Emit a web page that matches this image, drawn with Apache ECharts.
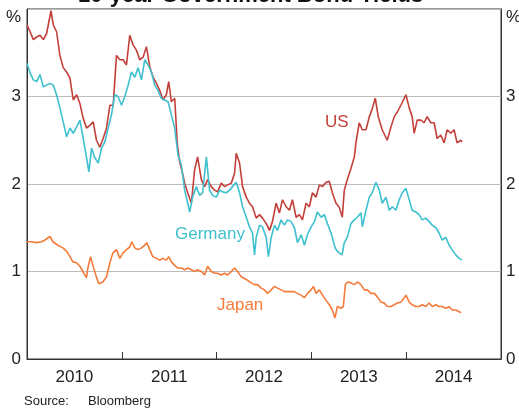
<!DOCTYPE html>
<html>
<head>
<meta charset="utf-8">
<script src="https://cdn.jsdelivr.net/npm/echarts@6/dist/echarts.min.js"></script>
<style>
  html, body { margin: 0; padding: 0; background: #fff; }
  #chart { width: 519px; height: 409px; }
</style>
</head>
<body>
<div id="chart"></div>
<script>
// x positions are decimal years, values are % yields
var yearLabels = ['2010', '2011', '2012', '2013', '2014'];

var usDates = [2010.000, 2010.032, 2010.067, 2010.102, 2010.137, 2010.172, 2010.207, 2010.253, 2010.277, 2010.312,
  2010.347, 2010.382, 2010.418, 2010.453, 2010.488, 2010.523, 2010.558, 2010.593, 2010.628, 2010.663,
  2010.698, 2010.733, 2010.768, 2010.803, 2010.839, 2010.874, 2010.909, 2010.944, 2010.979, 2011.014,
  2011.049, 2011.084, 2011.119, 2011.154, 2011.189, 2011.225, 2011.260, 2011.295, 2011.330, 2011.365,
  2011.400, 2011.435, 2011.470, 2011.495, 2011.523, 2011.558, 2011.586, 2011.611, 2011.646, 2011.663,
  2011.695, 2011.734, 2011.768, 2011.800, 2011.839, 2011.874, 2011.905, 2011.944, 2011.979, 2012.011,
  2012.049, 2012.084, 2012.116, 2012.155, 2012.189, 2012.207, 2012.242, 2012.274, 2012.313, 2012.347,
  2012.379, 2012.418, 2012.453, 2012.484, 2012.523, 2012.558, 2012.589, 2012.628, 2012.663, 2012.695,
  2012.734, 2012.768, 2012.800, 2012.839, 2012.874, 2012.905, 2012.944, 2012.979, 2013.011, 2013.049,
  2013.084, 2013.116, 2013.155, 2013.189, 2013.221, 2013.260, 2013.295, 2013.326, 2013.347, 2013.379,
  2013.418, 2013.453, 2013.471, 2013.505, 2013.537, 2013.576, 2013.611, 2013.639, 2013.674, 2013.705,
  2013.747, 2013.800, 2013.839, 2013.874, 2013.905, 2013.944, 2013.997, 2014.032, 2014.063, 2014.084,
  2014.116, 2014.155, 2014.189, 2014.221, 2014.260, 2014.295, 2014.326, 2014.365, 2014.400, 2014.432,
  2014.471, 2014.505, 2014.537, 2014.576, 2014.589];
var usYield = [3.82, 3.74, 3.65, 3.68, 3.70, 3.65, 3.72, 3.98, 3.82, 3.74,
  3.47, 3.33, 3.28, 3.21, 2.96, 3.02, 2.92, 2.75, 2.64, 2.67,
  2.71, 2.50, 2.42, 2.52, 2.64, 2.90, 2.90, 3.47, 3.42, 3.42,
  3.36, 3.70, 3.59, 3.53, 3.42, 3.45, 3.57, 3.34, 3.22, 3.15,
  3.07, 2.96, 3.02, 3.17, 2.94, 2.98, 2.45, 2.25, 2.10, 2.01,
  1.90, 1.78, 2.16, 2.31, 2.05, 1.97, 2.05, 1.97, 1.93, 1.91,
  2.01, 1.97, 1.99, 2.01, 2.12, 2.35, 2.24, 1.97, 1.85, 1.78,
  1.74, 1.61, 1.65, 1.61, 1.55, 1.47, 1.57, 1.78, 1.67, 1.82,
  1.74, 1.70, 1.82, 1.62, 1.65, 1.59, 1.78, 1.74, 1.90, 1.85,
  1.99, 1.97, 2.02, 2.03, 1.90, 1.78, 1.73, 1.62, 1.93, 2.05,
  2.18, 2.31, 2.48, 2.70, 2.62, 2.62, 2.77, 2.85, 2.98, 2.77,
  2.62, 2.50, 2.65, 2.77, 2.82, 2.90, 3.02, 2.87, 2.77, 2.58,
  2.73, 2.73, 2.70, 2.77, 2.70, 2.70, 2.52, 2.56, 2.47, 2.62,
  2.58, 2.62, 2.47, 2.50, 2.48];

var deDates = [2010.000, 2010.032, 2010.067, 2010.102, 2010.137, 2010.172, 2010.207, 2010.242, 2010.277, 2010.312,
  2010.347, 2010.382, 2010.418, 2010.453, 2010.488, 2010.523, 2010.558, 2010.593, 2010.628, 2010.653,
  2010.681, 2010.716, 2010.751, 2010.786, 2010.821, 2010.856, 2010.891, 2010.926, 2010.961, 2010.997,
  2011.032, 2011.067, 2011.102, 2011.137, 2011.172, 2011.207, 2011.242, 2011.277, 2011.312, 2011.347,
  2011.382, 2011.417, 2011.453, 2011.488, 2011.523, 2011.558, 2011.593, 2011.628, 2011.663, 2011.695,
  2011.716, 2011.747, 2011.786, 2011.821, 2011.853, 2011.892, 2011.926, 2011.958, 2011.997, 2012.032,
  2012.063, 2012.102, 2012.137, 2012.168, 2012.207, 2012.242, 2012.274, 2012.313, 2012.347, 2012.379,
  2012.400, 2012.418, 2012.453, 2012.484, 2012.523, 2012.547, 2012.576, 2012.611, 2012.642, 2012.681,
  2012.716, 2012.747, 2012.786, 2012.821, 2012.853, 2012.892, 2012.926, 2012.958, 2012.997, 2013.032,
  2013.063, 2013.102, 2013.137, 2013.168, 2013.207, 2013.242, 2013.260, 2013.295, 2013.323, 2013.347,
  2013.379, 2013.418, 2013.453, 2013.484, 2013.523, 2013.537, 2013.576, 2013.611, 2013.642, 2013.681,
  2013.716, 2013.747, 2013.786, 2013.821, 2013.853, 2013.892, 2013.926, 2013.958, 2013.997, 2014.032,
  2014.063, 2014.102, 2014.137, 2014.168, 2014.207, 2014.242, 2014.274, 2014.313, 2014.347, 2014.379,
  2014.418, 2014.453, 2014.484, 2014.523, 2014.558, 2014.589];
var deYield = [3.38, 3.27, 3.19, 3.17, 3.25, 3.11, 3.13, 3.15, 3.13, 3.02,
  2.87, 2.71, 2.54, 2.64, 2.58, 2.65, 2.73, 2.52, 2.30, 2.14,
  2.41, 2.30, 2.24, 2.41, 2.48, 2.64, 2.79, 3.02, 3.00, 2.90,
  3.00, 3.13, 3.28, 3.22, 3.33, 3.19, 3.42, 3.36, 3.28, 3.13,
  3.07, 2.98, 2.96, 2.94, 2.79, 2.64, 2.33, 2.22, 1.93, 1.78,
  1.68, 1.85, 1.97, 1.87, 1.90, 2.31, 1.93, 1.87, 1.85, 1.93,
  1.91, 1.90, 1.93, 1.97, 2.02, 1.90, 1.74, 1.62, 1.51, 1.44,
  1.19, 1.39, 1.53, 1.51, 1.39, 1.17, 1.39, 1.53, 1.47, 1.59,
  1.53, 1.59, 1.57, 1.50, 1.33, 1.42, 1.30, 1.42, 1.51, 1.57,
  1.68, 1.62, 1.65, 1.55, 1.44, 1.30, 1.25, 1.21, 1.19, 1.33,
  1.39, 1.55, 1.59, 1.62, 1.67, 1.51, 1.70, 1.85, 1.90, 2.02,
  1.93, 1.78, 1.85, 1.70, 1.74, 1.70, 1.82, 1.90, 1.95, 1.82,
  1.70, 1.68, 1.65, 1.59, 1.61, 1.57, 1.53, 1.50, 1.44, 1.36,
  1.39, 1.30, 1.25, 1.19, 1.15, 1.13];

var jpDates = [2010.000, 2010.049, 2010.102, 2010.155, 2010.189, 2010.242, 2010.274, 2010.326, 2010.379, 2010.418,
  2010.453, 2010.484, 2010.523, 2010.558, 2010.589, 2010.628, 2010.642, 2010.671, 2010.695, 2010.734,
  2010.758, 2010.800, 2010.839, 2010.874, 2010.905, 2010.944, 2010.979, 2011.011, 2011.049, 2011.084,
  2011.105, 2011.137, 2011.168, 2011.207, 2011.242, 2011.263, 2011.295, 2011.326, 2011.365, 2011.400,
  2011.432, 2011.471, 2011.495, 2011.523, 2011.558, 2011.589, 2011.628, 2011.663, 2011.695, 2011.734,
  2011.768, 2011.800, 2011.839, 2011.874, 2011.905, 2011.944, 2011.979, 2012.011, 2012.049, 2012.084,
  2012.116, 2012.155, 2012.189, 2012.221, 2012.260, 2012.295, 2012.326, 2012.365, 2012.400, 2012.432,
  2012.471, 2012.505, 2012.537, 2012.576, 2012.611, 2012.642, 2012.681, 2012.716, 2012.747, 2012.786,
  2012.821, 2012.853, 2012.892, 2012.926, 2012.958, 2012.997, 2013.021, 2013.049, 2013.084, 2013.116,
  2013.155, 2013.189, 2013.221, 2013.249, 2013.274, 2013.313, 2013.337, 2013.358, 2013.382, 2013.418,
  2013.453, 2013.484, 2013.523, 2013.558, 2013.589, 2013.628, 2013.663, 2013.695, 2013.734, 2013.768,
  2013.800, 2013.839, 2013.874, 2013.905, 2013.944, 2013.979, 2013.997, 2014.032, 2014.063, 2014.102,
  2014.137, 2014.168, 2014.207, 2014.242, 2014.274, 2014.313, 2014.347, 2014.379, 2014.418, 2014.453,
  2014.484, 2014.523, 2014.558, 2014.582];
var jpYield = [1.34, 1.34, 1.33, 1.34, 1.36, 1.40, 1.34, 1.30, 1.27, 1.23,
  1.17, 1.11, 1.10, 1.06, 1.00, 0.93, 1.04, 1.17, 1.07, 0.93,
  0.86, 0.88, 0.94, 1.10, 1.21, 1.25, 1.15, 1.21, 1.25, 1.28,
  1.34, 1.27, 1.25, 1.27, 1.30, 1.33, 1.25, 1.17, 1.15, 1.13,
  1.15, 1.13, 1.17, 1.11, 1.07, 1.04, 1.04, 1.02, 1.04, 1.02,
  1.00, 1.02, 1.00, 0.96, 1.06, 1.00, 0.98, 0.98, 0.96, 0.98,
  0.96, 1.00, 1.04, 1.00, 0.94, 0.92, 0.90, 0.87, 0.85, 0.85,
  0.81, 0.79, 0.75, 0.79, 0.83, 0.81, 0.79, 0.77, 0.77, 0.77,
  0.77, 0.75, 0.73, 0.70, 0.75, 0.79, 0.83, 0.75, 0.79, 0.73,
  0.67, 0.62, 0.56, 0.47, 0.60, 0.58, 0.60, 0.85, 0.88, 0.87,
  0.85, 0.88, 0.85, 0.79, 0.79, 0.75, 0.75, 0.71, 0.65, 0.64,
  0.60, 0.60, 0.62, 0.64, 0.65, 0.70, 0.73, 0.65, 0.62, 0.60,
  0.60, 0.62, 0.60, 0.64, 0.60, 0.62, 0.60, 0.60, 0.58, 0.60,
  0.56, 0.56, 0.54, 0.53];

var usColor = '#c3403a';
var deColor = '#3fc0cf';
var jpColor = '#f47b3a';

function pairs(xs, ys) {
  return xs.map(function (x, i) { return [x, ys[i]]; });
}

var chart = echarts.init(document.getElementById('chart'));
var font = 'Arial, "Liberation Sans", sans-serif';

var yLabel = {
  fontSize: 17,
  color: '#222',
  fontFamily: font,
  formatter: function (v) { return v === 4 ? '{p|%}' : String(v); },
  rich: { p: { fontSize: 17, color: '#222', fontFamily: font, padding: [16, 0, 0, 0] } }
};

var option = {
  animation: false,
  backgroundColor: '#fff',
  title: {
    text: '10-year Government Bond Yields',
    left: 73,
    top: -20,
    textStyle: { fontSize: 22, fontWeight: 'bold', color: '#111', fontFamily: font }
  },
  grid: {
    left: 27, right: 18, top: 9, bottom: 50,
    outerBoundsMode: 'none', containLabel: false,
    show: true, borderColor: '#333', borderWidth: 1
  },
  xAxis: [
    {
      type: 'value', min: 2010, max: 2015, interval: 1,
      axisLine: { lineStyle: { color: '#333', width: 1 } },
      axisTick: { inside: true, length: 7, lineStyle: { color: '#333' } },
      axisLabel: { show: false },
      splitLine: { show: false }
    },
    {
      type: 'category', position: 'bottom', data: yearLabels, boundaryGap: true,
      axisLine: { show: false }, axisTick: { show: false },
      axisLabel: { fontSize: 17, color: '#222', fontFamily: font, margin: 10 },
      splitLine: { show: false }
    }
  ],
  yAxis: [
    {
      type: 'value', min: 0, max: 4, interval: 1, position: 'left',
      axisLine: { show: true, lineStyle: { color: '#333' } },
      axisTick: { show: false },
      axisLabel: Object.assign({ margin: 6 }, yLabel),
      splitLine: { lineStyle: { color: '#bcbcbc', width: 1 } }
    },
    {
      type: 'value', min: 0, max: 4, interval: 1, position: 'right',
      axisLine: { show: true, lineStyle: { color: '#333' } },
      axisTick: { show: false },
      axisLabel: Object.assign({ margin: 5 }, yLabel),
      splitLine: { show: false }
    }
  ],
  series: [
    { name: 'US', type: 'line', data: pairs(usDates, usYield), showSymbol: false,
      lineStyle: { color: usColor, width: 1.6 }, itemStyle: { color: usColor } },
    { name: 'Germany', type: 'line', data: pairs(deDates, deYield), showSymbol: false,
      lineStyle: { color: deColor, width: 1.6 }, itemStyle: { color: deColor } },
    { name: 'Japan', type: 'line', data: pairs(jpDates, jpYield), showSymbol: false,
      lineStyle: { color: jpColor, width: 1.6 }, itemStyle: { color: jpColor } }
  ],
  graphic: [
    { type: 'text', left: 325, top: 114, style: { text: 'US', fill: usColor, fontSize: 17, fontFamily: font } },
    { type: 'text', left: 175, top: 226, style: { text: 'Germany', fill: deColor, fontSize: 17, fontFamily: font } },
    { type: 'text', left: 217, top: 297, style: { text: 'Japan', fill: jpColor, fontSize: 17, fontFamily: font } },
    { type: 'text', left: 24, top: 395, style: { text: 'Source:', fill: '#222', fontSize: 13, fontFamily: font } },
    { type: 'text', left: 88, top: 395, style: { text: 'Bloomberg', fill: '#222', fontSize: 13, fontFamily: font } }
  ]
};

chart.setOption(option);
</script>
</body>
</html>
